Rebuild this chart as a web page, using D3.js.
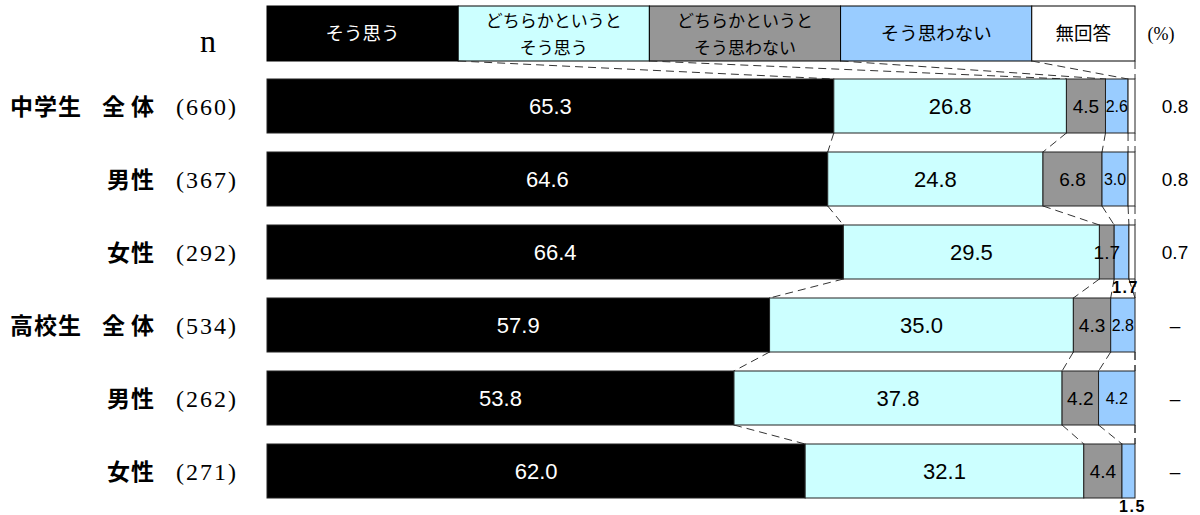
<!DOCTYPE html>
<html><head><meta charset="utf-8">
<script src="https://cdn.jsdelivr.net/npm/d3@7"></script>
<style>body{margin:0;background:#fff}svg{display:block}</style>
</head><body>
<svg id="chart" width="1200" height="515"></svg>
<script>
// ---- data ----
const schools = ["中学生", "", "", "高校生", "", ""];
const groups = ["全体", "男性", "女性", "全体", "男性", "女性"];
const nValues = [660, 367, 292, 534, 262, 271];
const seriesNames = ["そう思う", "どちらかというと|そう思う", "どちらかというと|そう思わない", "そう思わない", "無回答"];
const soOmou = [65.3, 64.6, 66.4, 57.9, 53.8, 62.0];
const dochiraOmou = [26.8, 24.8, 29.5, 35.0, 37.8, 32.1];
const dochiraOmowanai = [4.5, 6.8, 1.7, 4.3, 4.2, 4.4];
const omowanai = [2.6, 3.0, 1.7, 2.8, 4.2, 1.5];
const muKaito = [0.8, 0.8, 0.7, null, null, null];
const colors = ["#000000", "#CCFFFF", "#969696", "#99CCFF", "#FFFFFF"];
const legendWeights = [1, 1, 1, 1, 0.54];

const svg = d3.select("#chart");
const seriesVals = [soOmou, dochiraOmou, dochiraOmowanai, omowanai, muKaito];
const rows = groups.map((g, i) => {
  let c = 0;
  const segs = seriesVals.map((arr, s) => {
    const v = arr[i] || 0;
    const seg = {s, v, raw: arr[i], x0: c, x1: c + v};
    c += v;
    return seg;
  });
  return {i, segs};
});

const x = d3.scaleLinear().domain([0, 100]).range([267, 1135]);
const y = d3.scaleBand().domain(d3.range(6)).range([69.5, 507.5]).paddingInner(19 / 73).paddingOuter(9.5 / 73);

// legend
const lw = d3.sum(legendWeights);
const lx = d3.scaleLinear().domain([0, lw]).range([267, 1135]);
const lcum = [0]; legendWeights.forEach((w, k) => lcum.push(lcum[k] + w));
const legTop = 6, legBot = 61;
const leg = svg.append("g");
seriesNames.forEach((name, k) => {
  leg.append("rect").attr("x", lx(lcum[k])).attr("y", legTop)
    .attr("width", lx(lcum[k + 1]) - lx(lcum[k])).attr("height", legBot - legTop)
    .attr("fill", colors[k]).attr("stroke", "#000").attr("stroke-width", 1);
  const lines = name.split("|");
  const cx = (lx(lcum[k]) + lx(lcum[k + 1])) / 2;
  const t = leg.append("text").attr("text-anchor", "middle")
    .attr("font-family", "'Noto Sans CJK JP', sans-serif")
    .attr("fill", k === 0 ? "#fff" : "#000");
  if (lines.length === 1) {
    t.attr("x", cx).attr("y", 40).attr("font-size", 18.5).text(lines[0]);
  } else {
    t.attr("font-size", 17);
    t.append("tspan").attr("x", cx).attr("y", 27).text(lines[0]);
    t.append("tspan").attr("x", cx).attr("y", 54).text(lines[1]);
  }
});

// connectors
const conn = svg.append("g").attr("stroke", "#333").attr("stroke-width", 1)
  .attr("stroke-dasharray", "8,5").attr("fill", "none");
for (let b = 1; b <= 5; b++) {
  conn.append("line").attr("x1", lx(lcum[b])).attr("y1", legBot)
    .attr("x2", x(rows[0].segs[b - 1].x1)).attr("y2", y(0));
}
for (let r = 0; r < rows.length - 1; r++) {
  for (let b = 0; b < 5; b++) {
    conn.append("line")
      .attr("x1", x(rows[r].segs[b].x1)).attr("y1", y(r) + y.bandwidth())
      .attr("x2", x(rows[r + 1].segs[b].x1)).attr("y2", y(r + 1));
  }
}

// bars
const bars = svg.append("g");
rows.forEach(row => {
  const g = bars.append("g");
  g.selectAll("rect").data(row.segs.filter(d => d.v > 0)).join("rect")
    .attr("x", d => x(d.x0)).attr("y", y(row.i))
    .attr("width", d => x(d.x1) - x(d.x0)).attr("height", y.bandwidth())
    .attr("fill", d => colors[d.s]).attr("stroke", "#222").attr("stroke-width", 1);
  const fs = [22, 22, 19, 16];
  row.segs.slice(0, 4).forEach(d => {
    const cx = (x(d.x0) + x(d.x1)) / 2;
    const outside = d.s === 3 && d.v < 2;
    if (outside) {
      svg.append("text").attr("x", cx + 4).attr("y", y(row.i) + y.bandwidth() + 14)
        .attr("text-anchor", "middle").attr("font-family", "'Liberation Sans', Arial, sans-serif")
        .attr("font-weight", "bold").attr("font-size", 16).attr("letter-spacing", 1.5)
        .attr("fill", "#000").text(d.v.toFixed(1));
    } else {
      g.append("text").attr("x", cx).attr("y", y(row.i) + y.bandwidth() / 2)
        .attr("dy", "0.36em").attr("text-anchor", "middle")
        .attr("font-family", "'Liberation Sans', Arial, sans-serif")
        .attr("font-size", fs[d.s]).attr("fill", d.s === 0 ? "#fff" : "#000")
        .text(d.v.toFixed(1));
    }
  });
  // 無回答 column
  const m = row.segs[4].raw;
  svg.append("text").attr("x", 1175).attr("y", y(row.i) + y.bandwidth() / 2)
    .attr("dy", "0.36em").attr("text-anchor", "middle")
    .attr("font-family", "'Liberation Sans', Arial, sans-serif").attr("font-size", 19)
    .text(m == null ? "–" : m.toFixed(1));
  // row labels
  const cy = y(row.i) + y.bandwidth() / 2 + 9;
  const hasSchool = !!schools[row.i];
  if (hasSchool) {
    svg.append("text").attr("x", 10).attr("y", cy)
      .attr("font-family", "'Noto Sans CJK JP', sans-serif").attr("font-weight", "bold")
      .attr("font-size", 23).attr("letter-spacing", 1).text(schools[row.i]);
  }
  const ls = hasSchool ? 6 : 1;
  svg.append("text").attr("x", 155 + ls - 1).attr("y", cy).attr("text-anchor", "end")
    .attr("font-family", "'Noto Sans CJK JP', sans-serif").attr("font-weight", "bold")
    .attr("font-size", 23).attr("letter-spacing", ls).text(groups[row.i]);
  svg.append("text").attr("x", 176).attr("y", cy)
    .attr("font-family", "'Liberation Serif', 'DejaVu Serif', serif")
    .attr("font-size", 24).attr("letter-spacing", 2).text("(" + nValues[row.i] + ")");
});

svg.append("text").attr("x", 208).attr("y", 52).attr("text-anchor", "middle")
  .attr("font-family", "'Liberation Serif', serif").attr("font-size", 32).text("n");
svg.append("text").attr("x", 1161).attr("y", 40).attr("text-anchor", "middle")
  .attr("font-family", "'Liberation Serif', serif").attr("font-size", 18).text("(%)");
</script>
</body></html>
